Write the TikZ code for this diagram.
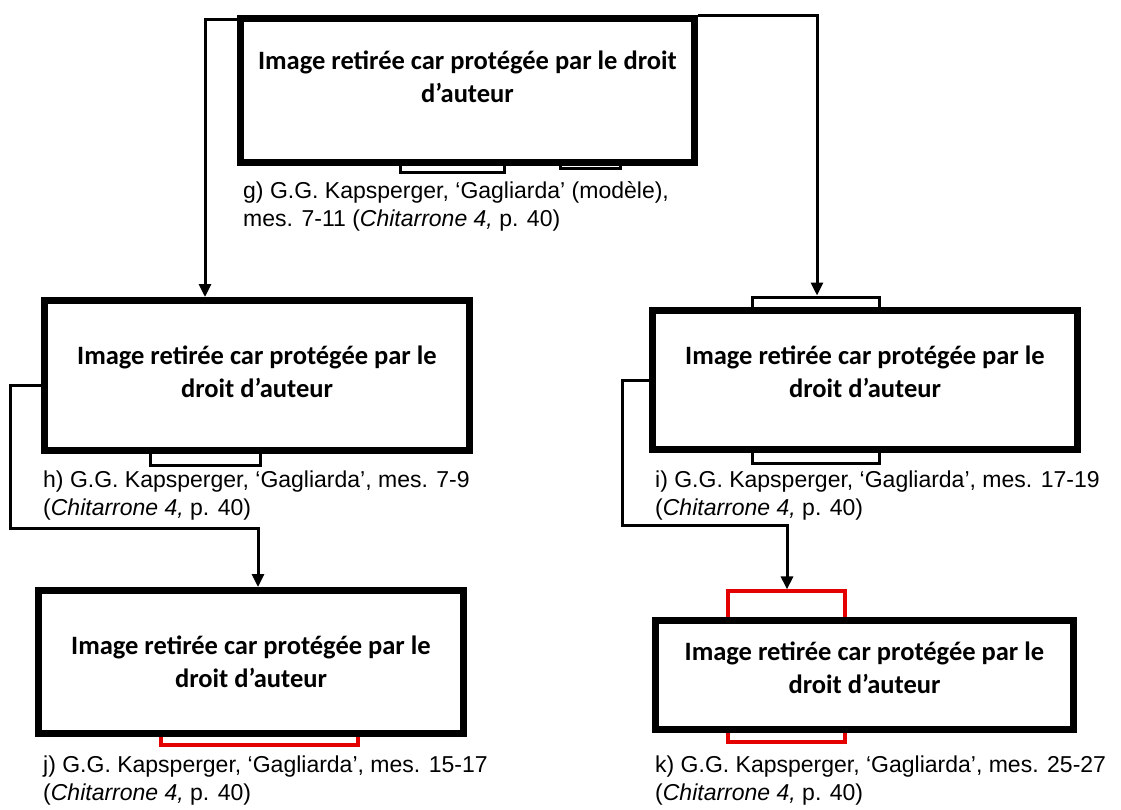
\documentclass[tikz,border=0pt]{standalone}
\usepackage{fontspec}
\setmainfont{Liberation Sans}
\newfontfamily\boxfont{Carlito}
\usetikzlibrary{arrows.meta}
\begin{document}
\begin{tikzpicture}[x=1pt,y=-1pt,
  imgbox/.style={draw, line width=7pt, fill=white, inner sep=0pt},
  boxtext/.style={align=center, inner sep=0pt,
    font=\boxfont\bfseries\fontsize{26.5}{33}\selectfont},
  captext/.style={anchor=base west, inner sep=0pt, font=\fontsize{23}{27}\selectfont},
  conn/.style={line width=3pt, -{Triangle[length=13pt,width=12pt]}},
  part/.style={draw, line width=3pt, fill=white},
  redpart/.style={draw=red!90!black, line width=3.2pt, fill=white}]
\useasboundingbox[fill=white] (0,0) rectangle (1121,810);

% pieces of the covered images
\draw[part] (400,140) rectangle (504,173);
\draw[part] (560,140) rectangle (620,169);
\draw[part] (150,430) rectangle (260,465);
\node[part, minimum width=127pt, minimum height=166pt, inner sep=0pt] (ir) at (815.5,380) {};
\draw[redpart] (161,700) rectangle (358,745);
\node[redpart, minimum width=117pt, minimum height=151pt, inner sep=0pt] (kr) at (786.5,666.5) {};

% boxes
\node[imgbox, minimum width=454pt, minimum height=144pt] (g) at (467.5,90.5) {};
\node[imgbox, minimum width=425pt, minimum height=150pt] (h) at (257,375.5) {};
\node[imgbox, minimum width=425pt, minimum height=139pt] (i) at (865,380) {};
\node[imgbox, minimum width=425pt, minimum height=143pt] (j) at (251,662) {};
\node[imgbox, minimum width=418pt, minimum height=109pt] (k) at (864.5,675) {};

\node[boxtext] (gt) at ([yshift=14pt]g.center)
  {Image retirée car protégée par le droit\\d’auteur};
\node[boxtext] (ht) at ([yshift=4pt]h.center) {Image retirée car protégée par le\\droit d’auteur};
\node[boxtext] (it) at ([yshift=8pt]i.center) {Image retirée car protégée par le\\droit d’auteur};
\node[boxtext] (jt) at (j.center) {Image retirée car protégée par le\\droit d’auteur};
\node[boxtext] (kt) at ([yshift=7pt]k.center) {Image retirée car protégée par le\\droit d’auteur};

% connectors
\coordinate (c1) at (205,20);
\draw[conn] (g.west |- c1) -| (h.north -| c1);
\coordinate (c2) at (817,16);
\draw[conn] (g.east |- c2) -| (ir.north -| c2);
\coordinate (c3a) at (10,385);
\coordinate (c3b) at (258,528);
\draw[conn] (h.west |- c3a) -| (c3a |- c3b) -- (c3b) -- (j.north -| c3b);
\coordinate (c4a) at (622,380);
\coordinate (c4b) at (787,525);
\draw[conn] (i.west |- c4a) -| (c4a |- c4b) -- (c4b) -- (kr.north -| c4b);

% captions
\node[captext] (g1) at (243,199) {g) G.G. Kapsperger, ‘Gagliarda’ (modèle),};
\node[captext] (g2) at (243,227) {mes. 7-11 (\textit{Chitarrone 4,} p. 40)};
\node[captext] (h1) at (43,487) {h) G.G. Kapsperger, ‘Gagliarda’, mes. 7-9};
\node[captext] (h2) at (43,515) {(\textit{Chitarrone 4,} p. 40)};
\node[captext] (i1) at (655,487) {i) G.G. Kapsperger, ‘Gagliarda’, mes. 17-19};
\node[captext] (i2) at (655,515) {(\textit{Chitarrone 4,} p. 40)};
\node[captext] (j1) at (43,772) {j) G.G. Kapsperger, ‘Gagliarda’, mes. 15-17};
\node[captext] (j2) at (43,800) {(\textit{Chitarrone 4,} p. 40)};
\node[captext] (k1) at (655,772) {k) G.G. Kapsperger, ‘Gagliarda’, mes. 25-27};
\node[captext] (k2) at (655,800) {(\textit{Chitarrone 4,} p. 40)};
\end{tikzpicture}
\end{document}
